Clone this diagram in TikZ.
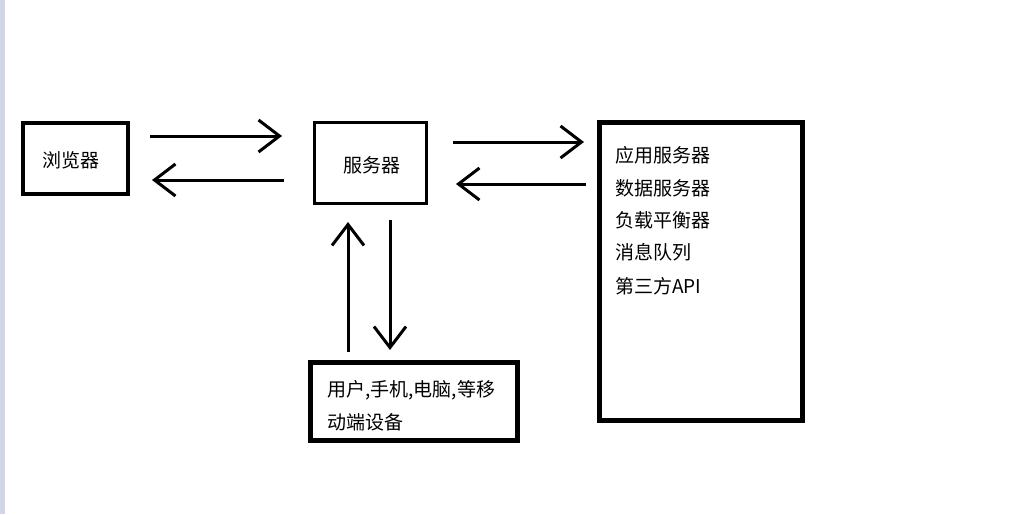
\documentclass[tikz,border=0pt]{standalone}
\usepackage{fontspec}
\setmainfont{Noto Sans CJK SC}
\usetikzlibrary{arrows.meta}
\definecolor{strip}{RGB}{208,214,232}
\begin{document}
\begin{tikzpicture}[x=1pt,y=-1pt,
  box/.style={draw, inner sep=0pt, outer sep=0pt},
  arr/.style={line width=3pt, -{Straight Barb[length=21pt,width=32pt]}},
  lbl/.style={font=\fontsize{19}{22}\selectfont, anchor=west, inner sep=0pt}]
\useasboundingbox[fill=white] (0,0) rectangle (1036,514);
\fill[strip] (0,0) rectangle (5,514);
% boxes
\node[box, line width=3.5pt, minimum width=105pt, minimum height=71pt] (browser) at (75.5,158.5) {};
\node[box, line width=3pt, minimum width=112pt, minimum height=81pt] (server) at (370,162.5) {};
\node[box, line width=5pt, minimum width=203pt, minimum height=298pt] (backend) at (701,271) {};
\node[box, line width=5pt, minimum width=207pt, minimum height=78pt] (device) at (414,401) {};
% texts
\node[lbl] (tbrowser) at (42,160) {浏览器};
\node[lbl] (tserver) at (343,165) {服务器};
\node[lbl] (t1) at (615,155) {应用服务器};
\node[lbl] (t2) at (615,188) {数据服务器};
\node[lbl] (t3) at (615,220) {负载平衡器};
\node[lbl] (t4) at (615,252) {消息队列};
\node[lbl] (t5) at (615,286) {第三方API};
\node[lbl] (d1) at (327,390) {用户,手机,电脑,等移};
\node[lbl] (d2) at (327,422) {动端设备};
% arrow end points
\coordinate (a1s) at (150,136); \coordinate (a1e) at (282,136);
\coordinate (a2s) at (284,180); \coordinate (a2e) at (152,180);
\coordinate (a3s) at (453,142); \coordinate (a3e) at (584,142);
\coordinate (a4s) at (586,184); \coordinate (a4e) at (456,184);
\coordinate (a5s) at (348,352); \coordinate (a5e) at (348,222);
\coordinate (a6s) at (390,220); \coordinate (a6e) at (390,350);
\draw[arr] (a1s) -- (a1e);
\draw[arr] (a2s) -- (a2e);
\draw[arr] (a3s) -- (a3e);
\draw[arr] (a4s) -- (a4e);
\draw[arr] (a5s) -- (a5e);
\draw[arr] (a6s) -- (a6e);
\end{tikzpicture}
\end{document}
